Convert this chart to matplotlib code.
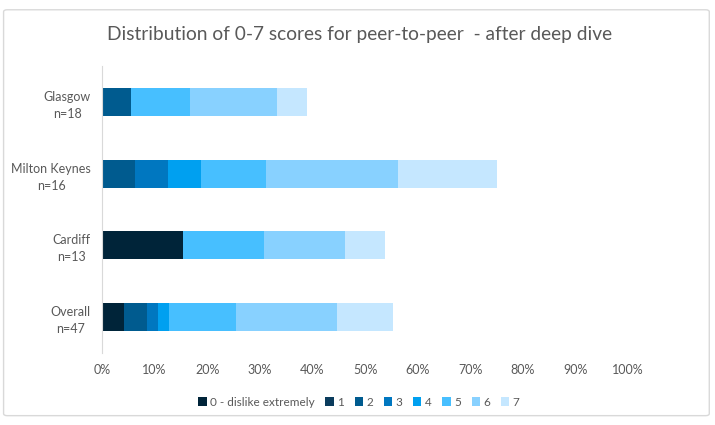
import matplotlib.pyplot as plt
from matplotlib.patches import FancyBboxPatch
import numpy as np

plt.rcParams['font.family'] = ['Lato', 'DejaVu Sans']

# responses per score, out of n for each group
groups = ['Glasgow\nn=18', 'Milton Keynes\nn=16', 'Cardiff\nn=13', 'Overall\nn=47']
n_resp = [18, 16, 13, 47]
score_labels = ['0 - dislike extremely', '1', '2', '3', '4', '5', '6', '7']
counts = [
    [0, 0, 1, 0, 0, 2, 3, 1],   # Glasgow
    [0, 0, 1, 1, 1, 2, 4, 3],   # Milton Keynes
    [2, 0, 0, 0, 0, 2, 2, 1],   # Cardiff
    [2, 0, 2, 1, 1, 6, 9, 5],   # Overall
]
colors = ['#002439', '#0b3c5d', '#005b8f', '#0077c0', '#00a0f0',
          '#47bfff', '#88d1ff', '#c5e7ff']
xticks = [0, 10, 20, 30, 40, 50, 60, 70, 80, 90, 100]

fig = plt.figure(figsize=(7.15, 4.25), dpi=100)
fig.patches.append(FancyBboxPatch((0.005, 0.022), 0.987, 0.955,
                                  boxstyle='round,pad=0,rounding_size=0.005',
                                  transform=fig.transFigure, fc='white',
                                  ec='#d9d9d9', lw=1, zorder=-1))
ax = fig.add_axes([0.1427, 0.1694, 0.7357, 0.6753])
ax.set_zorder(2)
ax.patch.set_alpha(0)

pct = np.array(counts, dtype=float) / np.array(n_resp)[:, None] * 100
y = np.arange(len(groups))
left = np.zeros(len(groups))
for k in range(len(score_labels)):
    ax.barh(y, pct[:, k], left=left, height=0.39, color=colors[k],
            label=score_labels[k])
    left += pct[:, k]

ax.set_xlim(0, 100)
ax.set_ylim(3.5, -0.5)
ax.set_yticks(y)
ax.set_yticklabels(groups, fontsize=9, color='#595959', linespacing=1.5,
                   multialignment='center')
ax.set_xticks(xticks)
ax.set_xticklabels(['{}%'.format(t) for t in xticks], fontsize=9, color='#595959')
ax.tick_params(length=0, pad=8)
for s in ['top', 'right', 'bottom']:
    ax.spines[s].set_visible(False)
ax.spines['left'].set_color('#d9d9d9')

fig.text(0.503, 0.918, 'Distribution of 0-7 scores for peer-to-peer  - after deep dive',
         ha='center', va='center', fontsize=13.8, color='#595959')

fig.legend(loc='center', bbox_to_anchor=(0.502, 0.054), ncol=8, frameon=False,
           fontsize=8.5, handlelength=0.7, handleheight=0.7, handletextpad=0.3,
           columnspacing=0.9, labelcolor='#595959')

fig.savefig('out.png', dpi=100)
